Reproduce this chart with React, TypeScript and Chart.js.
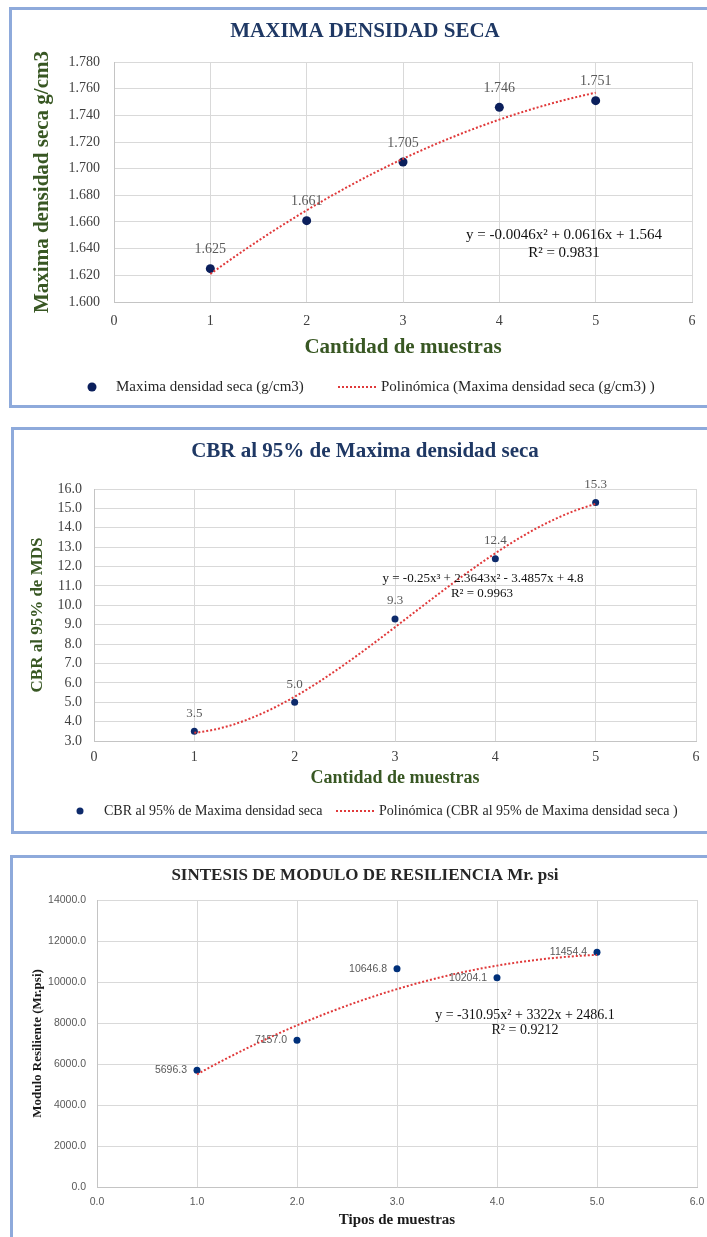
import React, { useEffect, useRef } from 'react';
import { Chart, registerables } from 'chart.js';

Chart.register(...registerables);

const SERIF = "'Liberation Serif', 'Times New Roman', serif";
const SANS = "'Liberation Sans', Arial, sans-serif";

// Muestras ensayadas (eje X de las tres gráficas)
const muestras = [1, 2, 3, 4, 5];

// Máxima densidad seca (g/cm3) y coeficientes de su tendencia polinómica (c0, c1, c2)
const densidadSeca = [1.625, 1.661, 1.705, 1.746, 1.751];
const densidadCoef = [1.564, 0.0616, -0.0046];
const densidadY = [1.6, 1.78, 0.02]; // min, max, paso

// CBR al 95% de la MDS y su tendencia cúbica (c0, c1, c2, c3)
const cbr95 = [3.5, 5.0, 9.3, 12.4, 15.3];
const cbrCoef = [4.8, -3.4857, 2.3643, -0.25];
const cbrY = [3, 16, 1];

// Módulo resiliente (Mr, psi) y su tendencia polinómica (c0, c1, c2)
const moduloResiliente = [5696.3, 7157.0, 10646.8, 10204.1, 11454.4];
const moduloCoef = [2486.1, 3322, -310.95];
const moduloY = [0, 14000, 2000];

const ejeX = [0, 6, 1];

const NAVY = '#1f3864';
const GREEN = '#385723';
const RED = '#e0393a';
const GRID = '#d9d9d9';
const AXIS = '#c4c4c4';

const polyval = (c: number[], x: number) =>
  c.reduce((s, ci, i) => s + ci * Math.pow(x, i), 0);

// Curva de tendencia evaluada entre la primera y la última muestra
const trendPoints = (c: number[]) => {
  const first = muestras[0];
  const last = muestras[muestras.length - 1];
  const pts: { x: number; y: number }[] = [];
  const n = 80;
  for (let k = 0; k <= n; k++) {
    const x = first + ((last - first) * k) / n;
    pts.push({ x, y: polyval(c, x) });
  }
  return pts;
};

const points = (vals: number[]) => muestras.map((x, i) => ({ x, y: vals[i] }));

type TextItem = {
  text: string;
  x: number;
  y: number;
  size: number;
  color: string;
  bold?: boolean;
  family?: string;
  align?: CanvasTextAlign;
};

type TagSpec = {
  dataset: number;
  values: number[];
  format: (v: number) => string;
  dx: number;
  dy: number;
  align: CanvasTextAlign;
  size: number;
  family: string;
  color: string;
};

type LegendSpec = {
  y: number;
  dotX: number;
  dotR: number;
  dotColor: string;
  label: string;
  labelX: number;
  lineX0: number;
  lineX1: number;
  trendLabel: string;
  trendX: number;
  size: number;
  color: string;
};

// Títulos, ecuaciones, etiquetas de valor y leyenda dibujados sobre el lienzo
function decor(texts: TextItem[], tags: TagSpec, legend?: LegendSpec) {
  return {
    id: 'decor',
    afterDraw(chart: any) {
      const ctx: CanvasRenderingContext2D = chart.ctx;
      ctx.save();
      ctx.textBaseline = 'middle';
      for (const t of texts) {
        ctx.font = `${t.bold ? 'bold ' : ''}${t.size}px ${t.family || SERIF}`;
        ctx.fillStyle = t.color;
        ctx.textAlign = t.align || 'center';
        ctx.fillText(t.text, t.x, t.y);
      }
      const meta = chart.getDatasetMeta(tags.dataset);
      ctx.font = `${tags.size}px ${tags.family}`;
      ctx.fillStyle = tags.color;
      ctx.textAlign = tags.align;
      meta.data.forEach((el: any, i: number) => {
        ctx.fillText(tags.format(tags.values[i]), el.x + tags.dx, el.y + tags.dy);
      });
      if (legend) {
        ctx.fillStyle = legend.dotColor;
        ctx.beginPath();
        ctx.arc(legend.dotX, legend.y, legend.dotR, 0, Math.PI * 2);
        ctx.fill();
        ctx.font = `${legend.size}px ${SERIF}`;
        ctx.fillStyle = legend.color;
        ctx.textAlign = 'left';
        ctx.fillText(legend.label, legend.labelX, legend.y);
        ctx.fillText(legend.trendLabel, legend.trendX, legend.y);
        ctx.strokeStyle = RED;
        ctx.lineWidth = 2;
        ctx.setLineDash([2, 2]);
        ctx.beginPath();
        ctx.moveTo(legend.lineX0, legend.y);
        ctx.lineTo(legend.lineX1, legend.y);
        ctx.stroke();
      }
      ctx.restore();
    },
  };
}

type AxisSpec = {
  range: number[];
  decimals: number;
  tickFont: any;
  tickColor: string;
  tickPadding: number;
  title: string;
  titleFont: any;
  titleColor: string;
  titlePad: any;
  size: number;
  horizontal: boolean;
};

function axis(a: AxisSpec) {
  return {
    type: 'linear',
    min: a.range[0],
    max: a.range[1],
    ticks: {
      stepSize: a.range[2],
      maxTicksLimit: 40,
      autoSkip: false,
      maxRotation: 0,
      font: a.tickFont,
      color: a.tickColor,
      padding: a.tickPadding,
      callback: (v: any) => Number(v).toFixed(a.decimals),
    },
    grid: { color: GRID, lineWidth: 1, drawTicks: false },
    border: { display: true, color: AXIS, width: 1 },
    title: {
      display: true,
      text: a.title,
      font: a.titleFont,
      color: a.titleColor,
      padding: a.titlePad,
    },
    afterFit: (s: any) => {
      if (a.horizontal) s.height = a.size;
      else s.width = a.size;
      s.paddingLeft = 0;
      s.paddingRight = 0;
      s.paddingTop = 0;
      s.paddingBottom = 0;
    },
  };
}

function datasets(trendLabel: string, coef: number[], label: string, vals: number[], color: string, r: number) {
  return [
    {
      label: trendLabel,
      data: trendPoints(coef),
      showLine: true,
      borderColor: RED,
      borderWidth: 2,
      borderDash: [2, 2],
      pointRadius: 0,
      pointHoverRadius: 0,
      fill: false,
      tension: 0,
      order: 0,
    },
    {
      label,
      data: points(vals),
      backgroundColor: color,
      borderColor: color,
      borderWidth: 0,
      pointRadius: r,
      pointHoverRadius: r,
      order: 1,
    },
  ];
}

const baseOptions = (padding: any, scales: any) => ({
  responsive: false,
  animation: false,
  devicePixelRatio: 1,
  events: [],
  layout: { padding },
  plugins: { legend: { display: false }, tooltip: { enabled: false }, title: { display: false } },
  scales,
});

function densidadConfig() {
  const tickFont = { family: SERIF, size: 14 };
  const titleFont = { family: SERIF, size: 21, weight: 'bold', lineHeight: 1.2 };
  return {
    type: 'scatter',
    data: {
      datasets: datasets(
        'Polinómica (Maxima densidad seca (g/cm3) )',
        densidadCoef,
        'Maxima densidad seca (g/cm3)',
        densidadSeca,
        '#0b1f5c',
        4.5
      ),
    },
    options: baseOptions(
      { left: 25, right: 15, top: 62, bottom: 55 },
      {
        x: axis({
          range: ejeX, decimals: 0, tickFont, tickColor: '#404040', tickPadding: 11,
          title: 'Cantidad de muestras', titleFont, titleColor: GREEN,
          titlePad: { top: 0, bottom: 5 }, size: 63, horizontal: true,
        }),
        y: axis({
          range: densidadY, decimals: 3, tickFont, tickColor: '#404040', tickPadding: 14,
          title: 'Maxima densidad seca g/cm3', titleFont, titleColor: GREEN,
          titlePad: { top: 5, bottom: 0 }, size: 89, horizontal: false,
        }),
      }
    ),
    plugins: [
      decor(
        [
          { text: 'MAXIMA DENSIDAD SECA', x: 365, y: 32, size: 21, bold: true, color: NAVY },
          { text: 'y = -0.0046x² + 0.0616x + 1.564', x: 564, y: 235, size: 15, color: '#111111' },
          { text: 'R² = 0.9831', x: 564, y: 253, size: 15, color: '#111111' },
        ],
        {
          dataset: 1, values: densidadSeca, format: (v) => v.toFixed(3), dx: 0, dy: -19,
          align: 'center', size: 14, family: SERIF, color: '#595959',
        },
        {
          y: 387, dotX: 92, dotR: 4.5, dotColor: '#0b1f5c',
          label: 'Maxima densidad seca (g/cm3)', labelX: 116,
          lineX0: 338, lineX1: 376,
          trendLabel: 'Polinómica (Maxima densidad seca (g/cm3) )', trendX: 381,
          size: 15, color: '#262626',
        }
      ),
    ],
  };
}

function cbrConfig() {
  const tickFont = { family: SERIF, size: 14 };
  return {
    type: 'scatter',
    data: {
      datasets: datasets(
        'Polinómica (CBR al 95% de Maxima densidad seca )',
        cbrCoef,
        'CBR al 95% de Maxima densidad seca',
        cbr95,
        '#0d2a6b',
        3.5
      ),
    },
    options: baseOptions(
      { left: 22, right: 11, top: 69, bottom: 46 },
      {
        x: axis({
          range: ejeX, decimals: 0, tickFont, tickColor: '#404040', tickPadding: 8,
          title: 'Cantidad de muestras', titleFont: { family: SERIF, size: 18, weight: 'bold', lineHeight: 1.2 },
          titleColor: GREEN, titlePad: { top: 0, bottom: 5 }, size: 53, horizontal: true,
        }),
        y: axis({
          range: cbrY, decimals: 1, tickFont, tickColor: '#404040', tickPadding: 12,
          title: 'CBR al 95% de MDS', titleFont: { family: SERIF, size: 17, weight: 'bold', lineHeight: 1.2 },
          titleColor: GREEN, titlePad: { top: 5, bottom: 0 }, size: 72, horizontal: false,
        }),
      }
    ),
    plugins: [
      decor(
        [
          { text: 'CBR al 95% de Maxima densidad seca', x: 365, y: 32, size: 21, bold: true, color: NAVY },
          { text: 'y = -0.25x³ + 2.3643x² - 3.4857x + 4.8', x: 483, y: 159, size: 13, color: '#111111' },
          { text: 'R² = 0.9963', x: 482, y: 174, size: 13, color: '#111111' },
        ],
        {
          dataset: 1, values: cbr95, format: (v) => v.toFixed(1), dx: 0, dy: -18,
          align: 'center', size: 13, family: SERIF, color: '#595959',
        },
        {
          y: 391, dotX: 80, dotR: 3.5, dotColor: '#0d2a6b',
          label: 'CBR al 95% de Maxima densidad seca', labelX: 104,
          lineX0: 336, lineX1: 374,
          trendLabel: 'Polinómica (CBR al 95% de Maxima densidad seca )', trendX: 379,
          size: 14, color: '#262626',
        }
      ),
    ],
  };
}

function moduloConfig() {
  const tickFont = { family: SANS, size: 10.5 };
  return {
    type: 'scatter',
    data: {
      datasets: datasets(
        'Polinómica (Modulo Resiliente)',
        moduloCoef,
        'Modulo Resiliente (Mr.psi)',
        moduloResiliente,
        '#00307a',
        3.5
      ),
    },
    options: baseOptions(
      { left: 25, right: 10, top: 60, bottom: 4 },
      {
        x: axis({
          range: ejeX, decimals: 1, tickFont, tickColor: '#595959', tickPadding: 9,
          title: 'Tipos de muestras', titleFont: { family: SERIF, size: 15, weight: 'bold', lineHeight: 1.2 },
          titleColor: '#1a1a1a', titlePad: { top: 0, bottom: 4 }, size: 46, horizontal: true,
        }),
        y: axis({
          range: moduloY, decimals: 1, tickFont, tickColor: '#595959', tickPadding: 11,
          title: 'Modulo Resiliente (Mr.psi)', titleFont: { family: SERIF, size: 13, weight: 'bold', lineHeight: 1.2 },
          titleColor: '#1a1a1a', titlePad: { top: 5, bottom: 0 }, size: 72, horizontal: false,
        }),
      }
    ),
    plugins: [
      decor(
        [
          { text: 'SINTESIS DE MODULO DE RESILIENCIA Mr. psi', x: 365, y: 36, size: 17, bold: true, color: '#262626' },
          { text: 'y = -310.95x² + 3322x + 2486.1', x: 525, y: 175, size: 14, color: '#111111' },
          { text: 'R² = 0.9212', x: 525, y: 190, size: 14, color: '#111111' },
        ],
        {
          dataset: 1, values: moduloResiliente, format: (v) => v.toFixed(1), dx: -10, dy: 0,
          align: 'right', size: 10.5, family: SANS, color: '#595959',
        }
      ),
    ],
  };
}

function ChartCanvas({ top, height, build }: { top: number; height: number; build: () => any }) {
  const ref = useRef<HTMLCanvasElement>(null);
  useEffect(() => {
    const chart = new Chart(ref.current as HTMLCanvasElement, build());
    return () => chart.destroy();
  }, []);
  return (
    <canvas
      ref={ref}
      width={707}
      height={height}
      style={{ position: 'absolute', left: 0, top, width: 707, height, display: 'block' }}
    />
  );
}

const panel = (left: number, top: number, height: number): React.CSSProperties => ({
  position: 'absolute',
  left,
  top,
  width: 740,
  height,
  border: '3px solid #8eaadb',
  boxSizing: 'border-box',
  background: '#ffffff',
});

export default function App() {
  return (
    <div
      style={{
        position: 'absolute',
        left: 0,
        top: 0,
        width: 707,
        height: 1237,
        overflow: 'hidden',
        background: '#ffffff',
      }}
    >
      <div style={panel(9, 7, 401)} />
      <div style={panel(11, 427, 407)} />
      <div style={panel(10, 855, 420)} />
      <ChartCanvas top={0} height={420} build={densidadConfig} />
      <ChartCanvas top={420} height={420} build={cbrConfig} />
      <ChartCanvas top={840} height={397} build={moduloConfig} />
    </div>
  );
}
